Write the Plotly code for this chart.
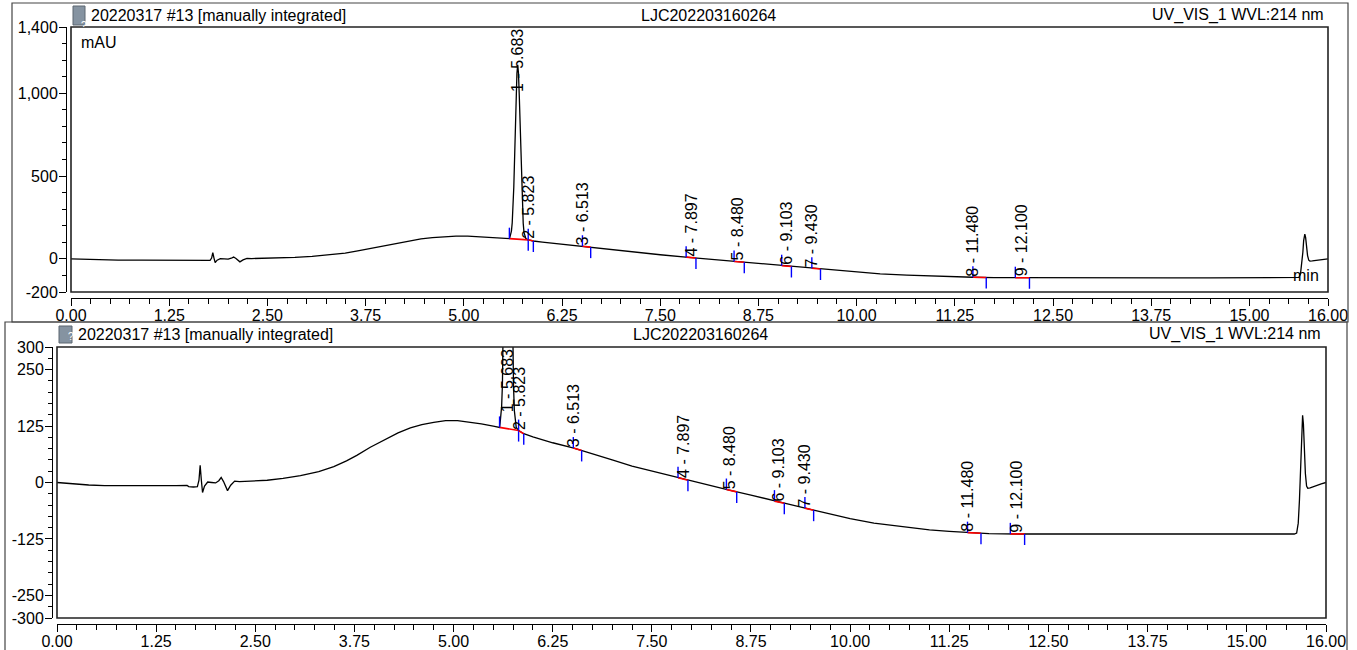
import numpy as np
import plotly.graph_objects as go

# ---------------- data ----------------
time_min = [0.00, 0.20, 0.40, 0.60, 0.90, 1.20, 1.50, 1.64, 1.66, 1.72, 1.77, 1.79, 1.805, 1.82, 1.835,
            1.86, 1.90, 1.95, 2.00, 2.04, 2.07, 2.10, 2.15, 2.19, 2.24, 2.30, 2.45, 2.65, 2.85, 3.07,
            3.30, 3.49, 3.65, 3.78, 3.95, 4.12, 4.30, 4.455, 4.60, 4.75, 4.90, 5.05, 5.20, 5.35, 5.50,
            5.58, 5.586, 5.606, 5.616, 5.626, 5.636, 5.646, 5.656, 5.666, 5.676, 5.686, 5.696, 5.706,
            5.716, 5.726, 5.736, 5.746, 5.756, 5.766, 5.776, 5.79, 5.82, 5.885, 6.00, 6.25, 6.517,
            6.75, 7.00, 7.25, 7.50, 7.86, 8.10, 8.45, 8.75, 9.04, 9.25, 9.46, 9.75, 10.00, 10.30,
            10.64, 11.00, 11.25, 11.48, 11.75, 12.11, 12.50, 13.00, 13.50, 14.00, 14.50, 15.00, 15.40,
            15.60, 15.63, 15.65, 15.665, 15.68, 15.69, 15.70, 15.705, 15.715, 15.725, 15.74, 15.755,
            15.77, 15.80, 15.87, 15.94, 16.00]
signal_mau = [0, -3, -5.5, -7, -7.5, -7.5, -7, -6.5, -9, -10, -9, 5, 38, 5, -22,
              -8, 1, 0, -1, 4, 11, 2, -18, -6, 3, 2, 3, 5, 9, 15,
              24, 35, 48, 60, 78, 94, 110, 121, 128, 133, 137, 137, 134, 130, 125,
              122, 130, 168, 217, 302, 431, 602, 798, 985, 1121, 1171, 1120, 985,
              800, 610, 440, 315, 215, 160, 135, 122, 115, 108, 101, 88, 76,
              64, 50, 36, 25, 9, -1, -16, -28, -41, -49, -58, -70, -80, -90,
              -98, -105, -108, -111, -113, -114, -114, -114, -114, -115, -115, -115, -115,
              -114, -112, -90, -40, 40, 110, 145, 149, 130, 80, 20, -8,
              -13, -12, -7, -3, 0]

peak_no = [1, 2, 3, 4, 5, 6, 7, 8, 9]
peak_rt = [5.683, 5.823, 6.513, 7.897, 8.480, 9.103, 9.430, 11.480, 12.100]
peak_start = [5.58, 5.82, 6.51, 7.83, 8.44, 9.046, 9.43, 11.48, 12.02]
peak_end = [5.82, 5.885, 6.615, 7.955, 8.57, 9.17, 9.54, 11.65, 12.20]

top_ticks = [-200, 0, 500, 1000, 1400]
top_ticktext = ["-200", "0", "500", "1,000", "1,400"]
bot_ticks = [-300, -250, -125, 0, 125, 250, 300]
bot_ticktext = ["-300", "-250", "-125", "0", "125", "250", "300"]
x_ticks = [0, 1.25, 2.5, 3.75, 5, 6.25, 7.5, 8.75, 10, 11.25, 12.5, 13.75, 15, 16]
x_ticktext = ["0.00", "1.25", "2.50", "3.75", "5.00", "6.25", "7.50", "8.75", "10.00",
              "11.25", "12.50", "13.75", "15.00", "16.00"]

header_left = "20220317 #13 [manually integrated]"
header_mid = "LJC202203160264"
header_right = "UV_VIS_1 WVL:214 nm"

# ---------------- layout geometry (pixels) ----------------
W, H = 1357, 650
FONT = "Liberation Sans, Arial, sans-serif"


def fx(p):
    return p / W


def fy(p):
    return 1 - p / H


panels = [
    dict(xa="xaxis", ya="yaxis", x="x", y="y",
         plot=(71, 1328, 27, 292), yaxis_x=66, xaxis_y=298,
         rng=[-200, 1400], ticks=top_ticks, ticktext=top_ticktext, minor=100,
         box=(12, 1348, 3, 322), head_y=15, head_left=89, head_mid=708, head_right=1326,
         icon=(73, 85, 6, 25), label_h=64),
    dict(xa="xaxis2", ya="yaxis2", x="x2", y="y2",
         plot=(57, 1326, 347, 618), yaxis_x=52, xaxis_y=624,
         rng=[-300, 300], ticks=bot_ticks, ticktext=bot_ticktext, minor=25,
         box=(5, 1347, 322, 660), head_y=334, head_left=76, head_mid=700, head_right=1323,
         icon=(59, 72, 326, 343), label_h=64),
]

fig = go.Figure()
shapes = []
annotations = []

t_arr = np.array(time_min)
s_arr = np.array(signal_mau)

for pi, P in enumerate(panels):
    l, r, t, b = P["plot"]
    fig.add_trace(go.Scatter(x=time_min, y=signal_mau, mode="lines", xaxis=P["x"], yaxis=P["y"],
                             line=dict(color="black", width=1.3), hoverinfo="skip", showlegend=False))

    fig.layout[P["xa"]] = dict(
        domain=[fx(l), fx(r)], range=[0, 16], anchor="free", position=fy(P["xaxis_y"]),
        automargin=False,
        showgrid=False, zeroline=False, showline=True, linecolor="black", linewidth=1,
        ticks="outside", ticklen=7, tickcolor="black", tickmode="array",
        tickvals=x_ticks, ticktext=x_ticktext, ticklabelstandoff=-4,
        tickfont=dict(family=FONT, size=16, color="black"),
        minor=dict(tickmode="array", tickvals=list(np.arange(0, 16.001, 0.25)),
                   ticks="outside", ticklen=5, tickcolor="black"),
        fixedrange=True,
    )
    fig.layout[P["ya"]] = dict(
        domain=[fy(b), fy(t)], range=P["rng"], anchor="free", position=fx(P["yaxis_x"]),
        automargin=False,
        showgrid=False, zeroline=False, showline=True, linecolor="black", linewidth=1,
        ticks="outside", ticklen=7, tickcolor="black", tickmode="array",
        tickvals=P["ticks"], ticktext=P["ticktext"], ticklabelstandoff=-2,
        tickfont=dict(family=FONT, size=16, color="black"),
        minor=dict(tickmode="array",
                   tickvals=list(np.arange(P["rng"][0], P["rng"][1] + 0.1, P["minor"])),
                   ticks="outside", ticklen=4, tickcolor="black"),
        fixedrange=True,
    )

    # panel outline
    bl, br, bt, bb = P["box"]
    shapes.append(dict(type="rect", xref="paper", yref="paper", x0=fx(bl), x1=fx(br),
                       y0=fy(bb), y1=fy(bt), line=dict(color="#444444", width=1.2)))
    # plot frame
    shapes.append(dict(type="rect", xref="paper", yref="paper", x0=fx(l), x1=fx(r),
                       y0=fy(b), y1=fy(t), line=dict(color="#222222", width=1.6)))
    # header icon
    il, ir, it, ib = P["icon"]
    shapes.append(dict(type="rect", xref="paper", yref="paper", x0=fx(il), x1=fx(ir),
                       y0=fy(ib), y1=fy(it), fillcolor="#8593a1", line=dict(color="#5d6670", width=1)))
    annotations.append(dict(xref="paper", yref="paper", x=fx((il + ir) / 2), y=fy((it + ib) / 2 + 2),
                            text="?", showarrow=False, font=dict(family=FONT, size=10, color="white")))
    # header texts
    hy = fy(P["head_y"])
    annotations.append(dict(xref="paper", yref="paper", x=fx(P["head_left"]), y=hy, xanchor="left",
                            yanchor="middle", text=header_left, showarrow=False,
                            font=dict(family=FONT, size=16, color="black")))
    annotations.append(dict(xref="paper", yref="paper", x=fx(P["head_mid"]), y=hy, xanchor="center",
                            yanchor="middle", text=header_mid, showarrow=False,
                            font=dict(family=FONT, size=16, color="black")))
    annotations.append(dict(xref="paper", yref="paper", x=fx(P["head_right"]), y=hy, xanchor="right",
                            yanchor="middle", text=header_right, showarrow=False,
                            font=dict(family=FONT, size=16, color="black")))

    # peak integration marks
    units_per_px = (P["rng"][1] - P["rng"][0]) / (b - t)
    for n, rt, ps, pe in zip(peak_no, peak_rt, peak_start, peak_end):
        ys = float(np.interp(ps, t_arr, s_arr))
        ye = float(np.interp(pe, t_arr, s_arr))
        if n == 1:
            ys = 122.0
            ye = 115.0
        shapes.append(dict(type="line", xref=P["x"], yref=P["y"], x0=ps, x1=pe, y0=ys, y1=ye,
                           line=dict(color="#ff0000", width=1.6)))
        shapes.append(dict(type="line", xref=P["x"], yref=P["y"], x0=ps, x1=ps,
                           ysizemode="pixel", yanchor=ys, y0=0, y1=11,
                           line=dict(color="#0000ff", width=1.4)))
        shapes.append(dict(type="line", xref=P["x"], yref=P["y"], x0=pe, x1=pe,
                           ysizemode="pixel", yanchor=ye, y0=0, y1=-11,
                           line=dict(color="#0000ff", width=1.4)))
        # label
        mask = (t_arr > rt - 0.05) & (t_arr < rt + 0.05)
        apex = float(np.max(s_arr[mask])) if n == 1 else float(np.interp(rt, t_arr, s_arr))
        label = f"{n} - {rt:.3f}"
        if apex + P["label_h"] * units_per_px > P["rng"][1]:
            annotations.append(dict(xref=P["x"], yref=P["y"] + " domain", x=rt, y=1, yshift=-1,
                                    xanchor="center", yanchor="top", textangle=-90, text=label,
                                    showarrow=False, borderpad=0,
                                    font=dict(family=FONT, size=16, color="black")))
        else:
            annotations.append(dict(xref=P["x"], yref=P["y"], x=rt, y=apex,
                                    xanchor="center", yanchor="bottom", textangle=-90, text=label,
                                    showarrow=False, borderpad=0,
                                    font=dict(family=FONT, size=16, color="black")))

# unit labels on the upper chart
annotations.append(dict(xref="paper", yref="paper", x=fx(79), y=fy(43), xanchor="left", yanchor="middle",
                        text="mAU", showarrow=False, font=dict(family=FONT, size=16, color="black")))
annotations.append(dict(xref="paper", yref="paper", x=fx(1321), y=fy(275), xanchor="right", yanchor="middle",
                        text="min", showarrow=False, font=dict(family=FONT, size=16, color="black")))

fig.update_layout(
    template="none",
    width=W, height=H, autosize=False,
    margin=dict(l=0, r=0, t=0, b=0, pad=0, autoexpand=False),
    paper_bgcolor="white", plot_bgcolor="white",
    showlegend=False, shapes=shapes, annotations=annotations,
    font=dict(family=FONT, size=16, color="black"),
)

fig.write_html("out.html", config={"displayModeBar": False},
               post_script="document.body.style.margin='0px';document.body.style.overflow='hidden';")
